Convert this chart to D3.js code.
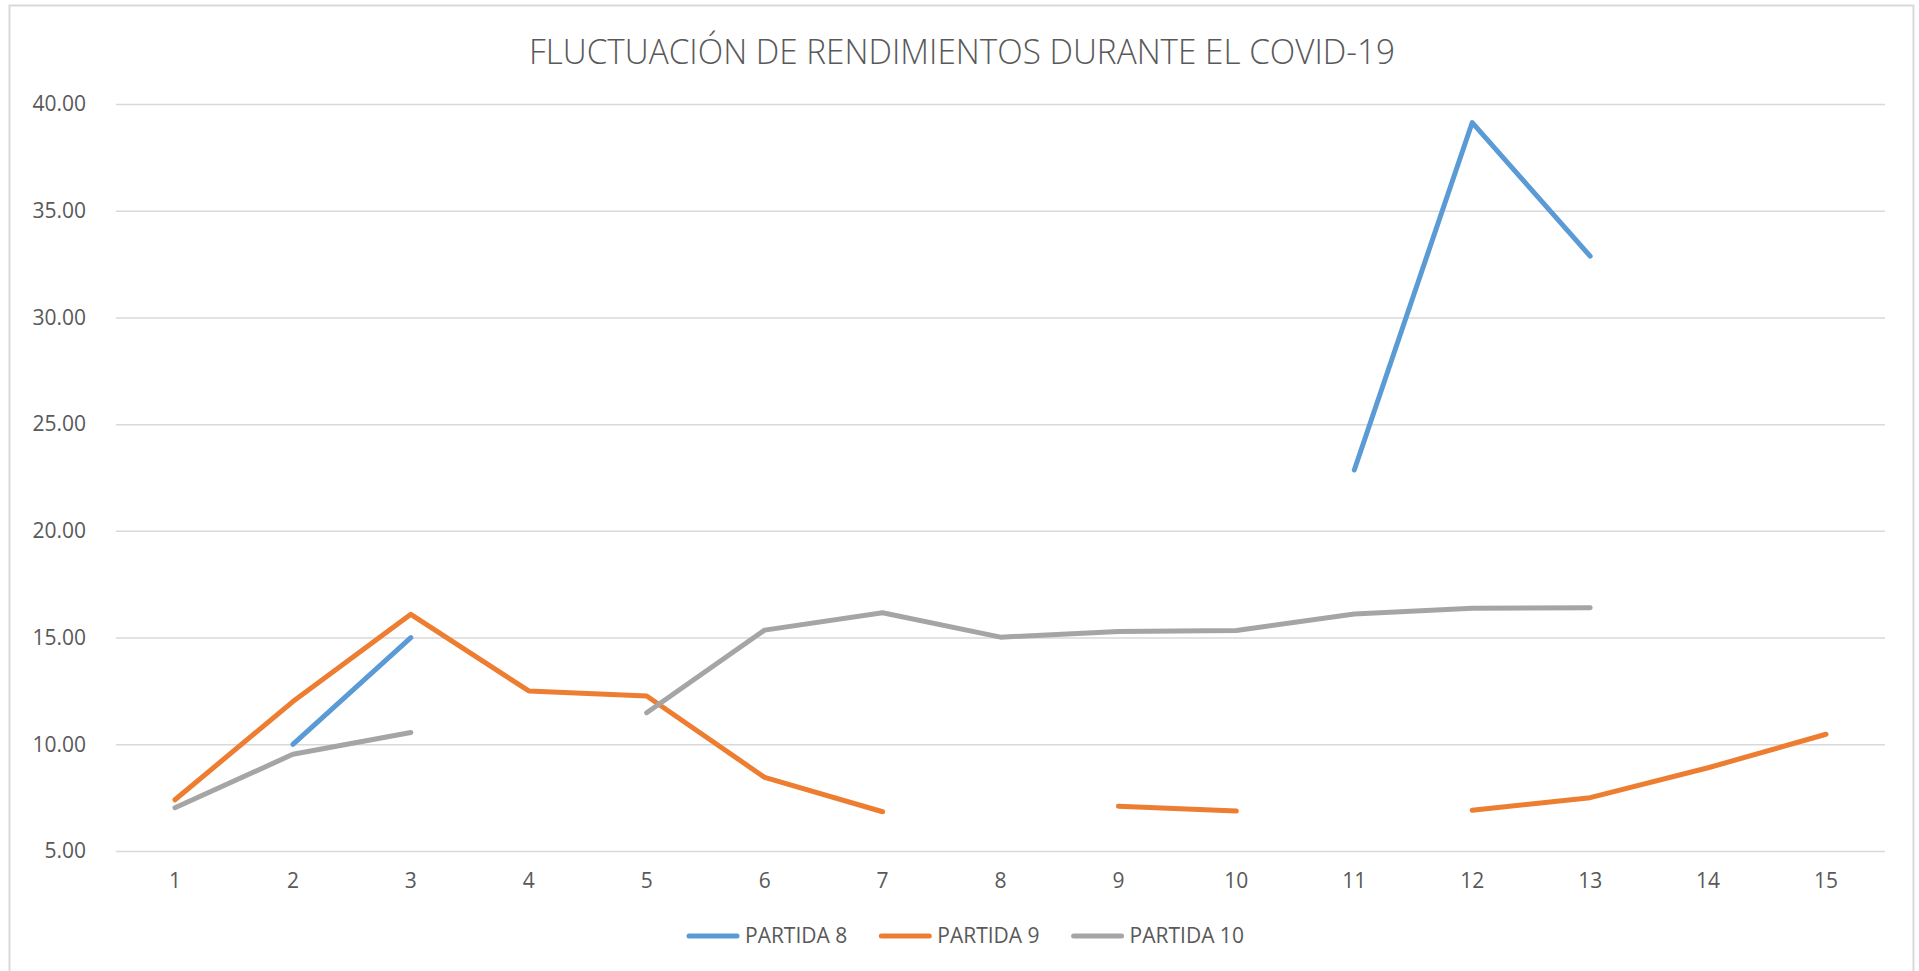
<!DOCTYPE html>
<html>
<head>
<meta charset="utf-8">
<script src="https://cdn.jsdelivr.net/npm/d3@7"></script>
<style>
  html, body { margin: 0; padding: 0; background: #fff; }
  svg { display: block; }
</style>
</head>
<body>
<div id="chart"></div>
<script>
const title = "FLUCTUACIÓN DE RENDIMIENTOS DURANTE EL COVID-19";
const categories = [1, 2, 3, 4, 5, 6, 7, 8, 9, 10, 11, 12, 13, 14, 15];
const yTicks = [5, 10, 15, 20, 25, 30, 35, 40];

const partida8 = [null, 10.0, 15.0, null, null, null, null, null, null, null, 22.85, 39.13, 32.87, null, null];
const partida9 = [7.4, 12.0, 16.09, 12.5, 12.26, 8.45, 6.84, null, 7.1, 6.87, null, 6.91, 7.5, 8.9, 10.47];
const partida10 = [7.03, 9.53, 10.55, null, 11.48, 15.35, 16.16, 15.02, 15.28, 15.33, 16.1, 16.37, 16.4, null, null];

const seriesNames = ["PARTIDA 8", "PARTIDA 9", "PARTIDA 10"];
const seriesColors = ["#5B9BD5", "#ED7D31", "#A5A5A5"];
const series = [partida8, partida9, partida10].map((values, i) => ({
  name: seriesNames[i],
  color: seriesColors[i],
  values: values,
}));

const w = 1919;
const h = 971;
const textColor = "#595959";
const font = "'Open Sans', 'Noto Sans', sans-serif";

const svg = d3
  .select("#chart")
  .append("svg")
  .attr("width", w)
  .attr("height", h);

// chart frame
svg
  .append("rect")
  .attr("x", 9.5)
  .attr("y", 5.5)
  .attr("width", 1904)
  .attr("height", 1000)
  .attr("fill", "none")
  .attr("stroke", "#d9d9d9")
  .attr("stroke-width", 2);

svg
  .append("text")
  .attr("x", 962)
  .attr("y", 64)
  .attr("text-anchor", "middle")
  .attr("font-family", font)
  .attr("font-weight", 300)
  .attr("font-size", 35)
  .attr("fill", textColor)
  .attr("textLength", 866)
  .attr("lengthAdjust", "spacingAndGlyphs")
  .text(title);

const xScale = d3.scaleBand().domain(categories).range([116, 1885]);
const yScale = d3.scaleLinear().domain([5, 40]).range([851, 104]);
const xc = (d) => xScale(d) + xScale.bandwidth() / 2;

// gridlines + y labels
const yAxis = d3
  .axisLeft(yScale)
  .tickValues(yTicks)
  .tickSize(-(1885 - 116))
  .tickPadding(30)
  .tickFormat((d) => d.toFixed(2));
const gy = svg.append("g").attr("transform", "translate(116,0)").call(yAxis);
gy.select(".domain").remove();
gy.selectAll(".tick line").attr("stroke", "#d9d9d9").attr("stroke-width", 1.5);
gy.selectAll(".tick text")
  .attr("font-family", font)
  .attr("font-size", 21)
  .attr("fill", textColor);

// x labels
const xAxis = d3.axisBottom(xScale).tickSize(0).tickPadding(22);
const gx = svg.append("g").attr("transform", "translate(0,851)").call(xAxis);
gx.select(".domain").remove();
gx.selectAll(".tick text")
  .attr("font-family", font)
  .attr("font-size", 21)
  .attr("fill", textColor);

// lines
const line = d3
  .line()
  .defined((d) => d.v != null)
  .x((d) => xc(d.c))
  .y((d) => yScale(d.v));

svg
  .append("g")
  .selectAll("path")
  .data(series)
  .enter()
  .append("path")
  .attr("d", (s) => line(s.values.map((v, i) => ({ c: categories[i], v: v }))))
  .attr("fill", "none")
  .attr("stroke", (s) => s.color)
  .attr("stroke-width", 5)
  .attr("stroke-linecap", "round")
  .attr("stroke-linejoin", "round");

// legend
const legend = svg.append("g").attr("transform", "translate(0,936)");
let lx = 687;
series.forEach((s) => {
  legend
    .append("line")
    .attr("x1", lx + 2)
    .attr("x2", lx + 50)
    .attr("y1", 0)
    .attr("y2", 0)
    .attr("stroke", s.color)
    .attr("stroke-width", 5)
    .attr("stroke-linecap", "round");
  const t = legend
    .append("text")
    .attr("x", lx + 58)
    .attr("y", 0)
    .attr("dy", "0.35em")
    .attr("font-family", font)
    .attr("font-size", 21)
    .attr("fill", textColor)
    .text(s.name);
  lx = lx + 58 + t.node().getComputedTextLength() + 32;
});
</script>
</body>
</html>
